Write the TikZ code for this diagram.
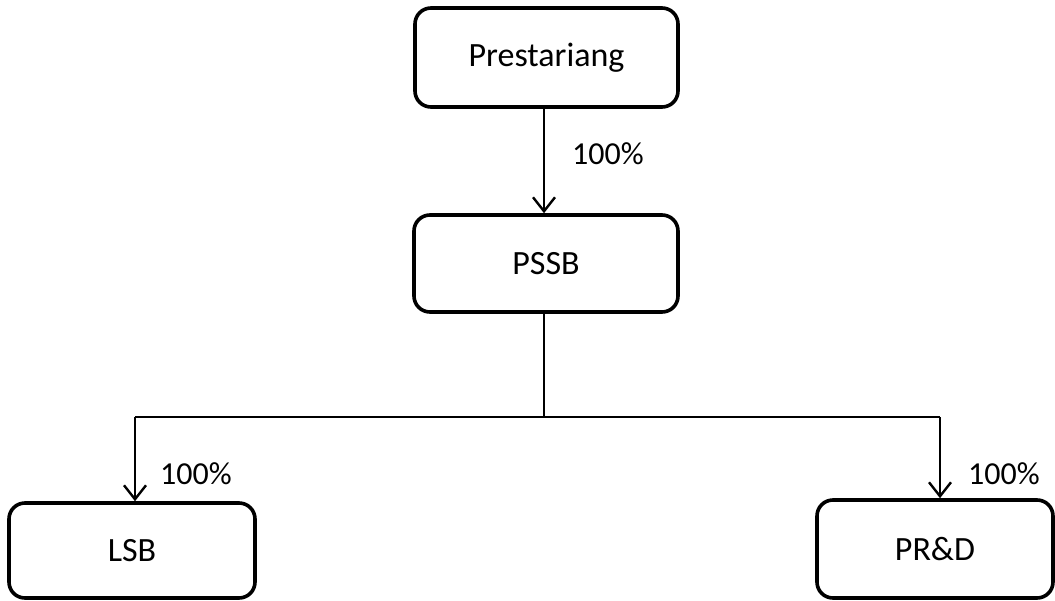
\documentclass[tikz,border=0pt]{standalone}
\usepackage{fontspec}
\setmainfont{Carlito}
\usetikzlibrary{arrows.meta}
\begin{document}
\begin{tikzpicture}[x=1pt,y=-1pt,
  box/.style={draw=black, line width=3.6pt, rounded corners=16pt, inner sep=0pt, font=\fontsize{34}{40}\selectfont},
  conn/.style={line width=2.4pt},
  arr/.style={conn, -{Straight Barb[length=14pt,width=22pt,line width=2.4pt]}},
  lbl/.style={font=\fontsize{32}{38}\selectfont, inner sep=0pt}]
\useasboundingbox (0,0) rectangle (1055,600);
\node[box, minimum width=263pt, minimum height=99pt] (pre) at (546.5,57.5) {Prestariang};
\node[box, minimum width=264pt, minimum height=97pt] (pssb) at (546,263.5) {PSSB};
\node[box, minimum width=246pt, minimum height=95pt] (lsb) at (132,550.5) {LSB};
\node[box, minimum width=236pt, minimum height=98pt] (prd) at (935,549) {PR\&D};
\coordinate (jl) at (135,417);
\coordinate (jr) at (940,417);
\draw[arr] (pre.south -| 544,0) -- (pssb.north -| 544,0);
\draw[conn] (pssb.south -| 544,0) -- (544,417);
\draw[conn] (jl) -- (jr);
\draw[arr] (jl) -- (jl |- lsb.north);
\draw[arr] (jr) -- (jr |- prd.north);
\node[lbl] (l1) at (608,154) {100\%};
\node[lbl] (l2) at (196,474) {100\%};
\node[lbl] (l3) at (1004,474) {100\%};
\end{tikzpicture}
\end{document}
